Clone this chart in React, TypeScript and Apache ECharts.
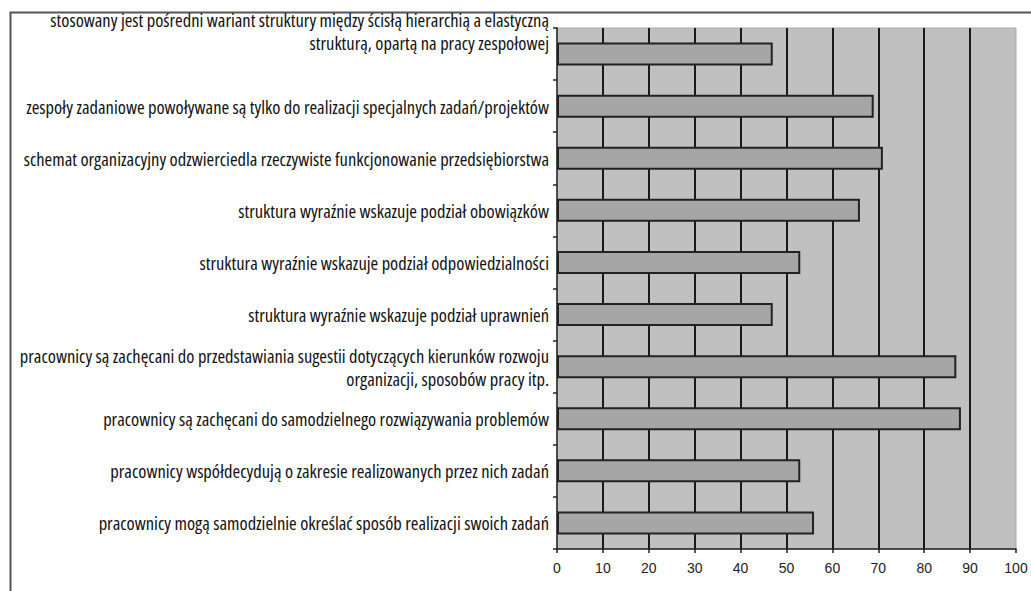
import React, { useEffect, useRef } from "react";
import * as echarts from "echarts";

// Survey statements (top to bottom) and share of answers, in %
const statements: string[] = [
  "stosowany jest pośredni wariant struktury między ścisłą hierarchią a elastyczną\nstrukturą, opartą na pracy zespołowej",
  "zespoły zadaniowe powoływane są tylko do realizacji specjalnych zadań/projektów",
  "schemat organizacyjny odzwierciedla rzeczywiste funkcjonowanie przedsiębiorstwa",
  "struktura wyraźnie wskazuje podział obowiązków",
  "struktura wyraźnie wskazuje podział odpowiedzialności",
  "struktura wyraźnie wskazuje podział uprawnień",
  "pracownicy są zachęcani do przedstawiania sugestii dotyczących kierunków rozwoju\norganizacji, sposobów pracy itp.",
  "pracownicy są zachęcani do samodzielnego rozwiązywania problemów",
  "pracownicy współdecydują o zakresie realizowanych przez nich zadań",
  "pracownicy mogą samodzielnie określać sposób realizacji swoich zadań",
];

const shares: number[] = [47, 69, 71, 66, 53, 47, 87, 88, 53, 56];

const axisTicks: number[] = [0, 100, 10]; // min, max, interval

export default function App() {
  const ref = useRef<HTMLDivElement>(null);

  useEffect(() => {
    if (!ref.current) return;
    const chart = echarts.init(ref.current, undefined, { renderer: "svg" });
    chart.setOption({
      animation: false,
      backgroundColor: "#ffffff",
      graphic: [
        {
          type: "rect",
          left: 8,
          top: 10,
          shape: { x: 0, y: 0, width: 1040, height: 600 },
          style: { fill: "none", stroke: "#555555", lineWidth: 2 },
          silent: true,
        },
      ],
      grid: {
        left: 557,
        right: 15,
        top: 28,
        bottom: 42,
        outerBoundsMode: "none",
        containLabel: false,
        show: true,
        backgroundColor: "#c0c0c0",
        borderColor: "#a9a9a9",
        borderWidth: 1,
      },
      xAxis: {
        type: "value",
        min: axisTicks[0],
        max: axisTicks[1],
        interval: axisTicks[2],
        axisLine: { show: true, lineStyle: { color: "#222222", width: 1.5 } },
        axisTick: { show: true, length: 4, lineStyle: { color: "#222222", width: 1.5 } },
        axisLabel: {
          color: "#222222",
          fontFamily: "'Liberation Sans', Arial, sans-serif",
          fontSize: 14,
          margin: 12,
        },
        splitLine: {
          show: true,
          showMinLine: false,
          showMaxLine: false,
          lineStyle: { color: "#1a1a1a", width: 2 },
        },
      },
      yAxis: {
        type: "category",
        inverse: true,
        data: statements,
        axisLine: { show: true, lineStyle: { color: "#222222", width: 1.5 } },
        axisTick: { show: true, length: 4, lineStyle: { color: "#222222", width: 1.5 } },
        axisLabel: {
          color: "#111111",
          // narrow, slightly heavy face for the statements
          fontFamily: "'Open Sans', sans-serif",
          fontWeight: "500 condensed",
          fontSize: 18.5,
          lineHeight: 23,
          margin: 8,
          interval: 0,
          // rich layout keeps the combined font shorthand on each line
          rich: { plain: { color: "#111111" } },
          // the top statement sits higher, above its bar
          formatter: (v: string, i: number) => (i === 0 ? v + "\n \n " : v),
        },
      },
      series: [
        {
          type: "bar",
          data: shares,
          barWidth: 23,
          itemStyle: {
            color: "#a6a6a6",
            borderColor: "#222222",
            borderWidth: 2,
          },
        },
      ],
    });
    return () => chart.dispose();
  }, []);

  return (
    <div
      ref={ref}
      style={{ position: "fixed", left: 0, top: 0, width: 1031, height: 591 }}
    />
  );
}
